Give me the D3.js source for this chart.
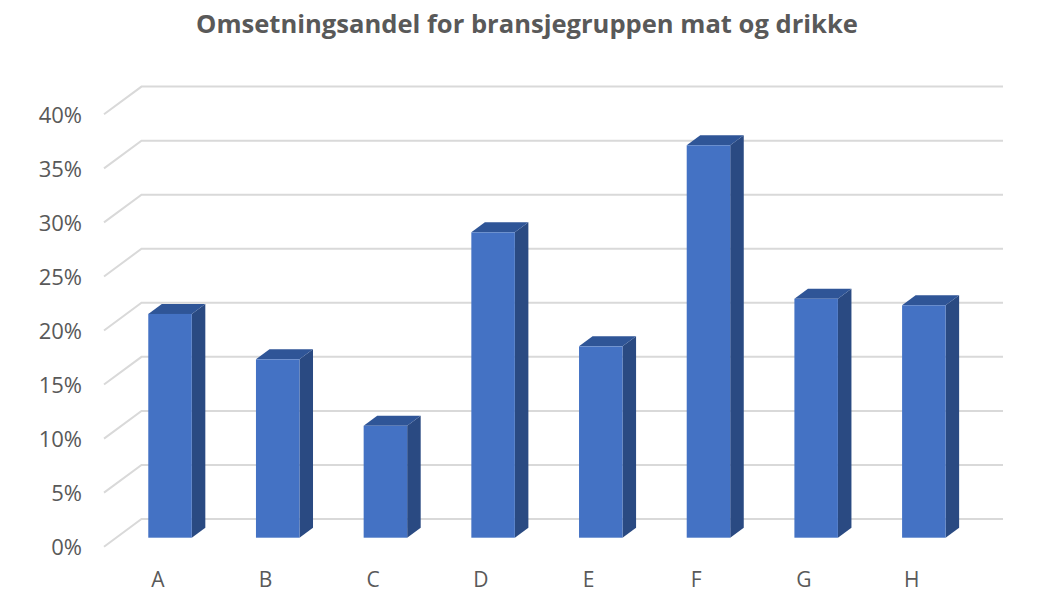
<!DOCTYPE html>
<html>
<head>
<meta charset="utf-8">
<script src="https://cdn.jsdelivr.net/npm/d3@7"></script>
<style>
  html, body { margin: 0; padding: 0; background: #fff; }
  svg { display: block; }
</style>
</head>
<body>
<svg id="chart" width="1058" height="604"></svg>
<script>
// ---- Data ----
const title = "Omsetningsandel for bransjegruppen mat og drikke";
const categories = ["A", "B", "C", "D", "E", "F", "G", "H"];
const values = [0.207, 0.165, 0.1035, 0.2825, 0.177, 0.363, 0.221, 0.215];
const tickValues = [0, 0.05, 0.10, 0.15, 0.20, 0.25, 0.30, 0.35, 0.40];

// ---- Layout ----
const W = 1058, H = 604;
const frontLeft = 104, frontRight = 965.5;
const depthX = 37.5, depthY = -27.7;
const barDepthStart = 0.325, barDepthEnd = 0.686;
const textColor = "#595959";
const gridColor = "#d9d9d9";
const fontFamily = "'Open Sans', 'Noto Sans', sans-serif";

const svg = d3.select("#chart");

const x = d3.scaleBand().domain(categories).range([frontLeft, frontRight]).paddingInner(0.596).paddingOuter(0.298);
const y = d3.scaleLinear().domain([0, 0.4]).range([546.7, 114.3]);

// gridlines (front diagonal + back wall)
const grid = svg.append("g");
grid.selectAll("path").data(tickValues).join("path")
  .attr("d", v => {
    const y0 = y(v);
    return `M${frontLeft},${y0} L${frontLeft + depthX},${y0 + depthY} L${frontRight + depthX},${y0 + depthY}`;
  })
  .attr("fill", "none")
  .attr("stroke", gridColor)
  .attr("stroke-width", 2);

// bars (3D)
const bars = svg.append("g");
const offX0 = depthX * barDepthStart, offY0 = depthY * barDepthStart;
const bdx = depthX * (barDepthEnd - barDepthStart), bdy = depthY * (barDepthEnd - barDepthStart);
const bw = x.bandwidth();
const g = bars.selectAll("g").data(categories.map((c, i) => ({c, v: values[i]}))).join("g");
// side face
g.append("path")
  .attr("d", d => {
    const xl = x(d.c) + offX0 + bw, yb = y(0) + offY0, yt = y(d.v) + offY0;
    return `M${xl},${yb} L${xl + bdx},${yb + bdy} L${xl + bdx},${yt + bdy} L${xl},${yt} Z`;
  })
  .attr("fill", "#2a4a82");
// top face
g.append("path")
  .attr("d", d => {
    const xl = x(d.c) + offX0, yt = y(d.v) + offY0;
    return `M${xl},${yt} L${xl + bw},${yt} L${xl + bw + bdx},${yt + bdy} L${xl + bdx},${yt + bdy} Z`;
  })
  .attr("fill", "#2f5597");
// front face
g.append("rect")
  .attr("x", d => x(d.c) + offX0)
  .attr("y", d => y(d.v) + offY0)
  .attr("width", bw)
  .attr("height", d => y(0) - y(d.v))
  .attr("fill", "#4472c4");

// y axis labels
const yAxis = d3.axisLeft(y).tickValues(tickValues).tickSize(0).tickPadding(0)
  .tickFormat(d => Math.round(d * 100) + "%");
const ya = svg.append("g").attr("transform", `translate(${82},0)`).call(yAxis);
ya.select(".domain").remove();
ya.selectAll("text").attr("fill", textColor).attr("font-size", 22).attr("font-family", fontFamily).attr("dy", "0.36em");

// x axis labels
const xAxis = d3.axisBottom(x).tickSize(0).tickPadding(0);
const xa = svg.append("g").attr("transform", `translate(0,${567})`).call(xAxis);
xa.select(".domain").remove();
xa.selectAll("text").attr("fill", textColor).attr("font-size", 21).attr("font-family", fontFamily).attr("dy", "0.95em");

// title
const t = svg.append("text")
  .attr("x", 527).attr("y", 32.5)
  .attr("text-anchor", "middle")
  .attr("fill", textColor)
  .attr("font-family", fontFamily)
  .attr("font-weight", "bold")
  .attr("font-size", 24)
  .text(title);
const tw = t.node().getComputedTextLength();
t.attr("font-size", 24 * 662 / tw);
</script>
</body>
</html>
